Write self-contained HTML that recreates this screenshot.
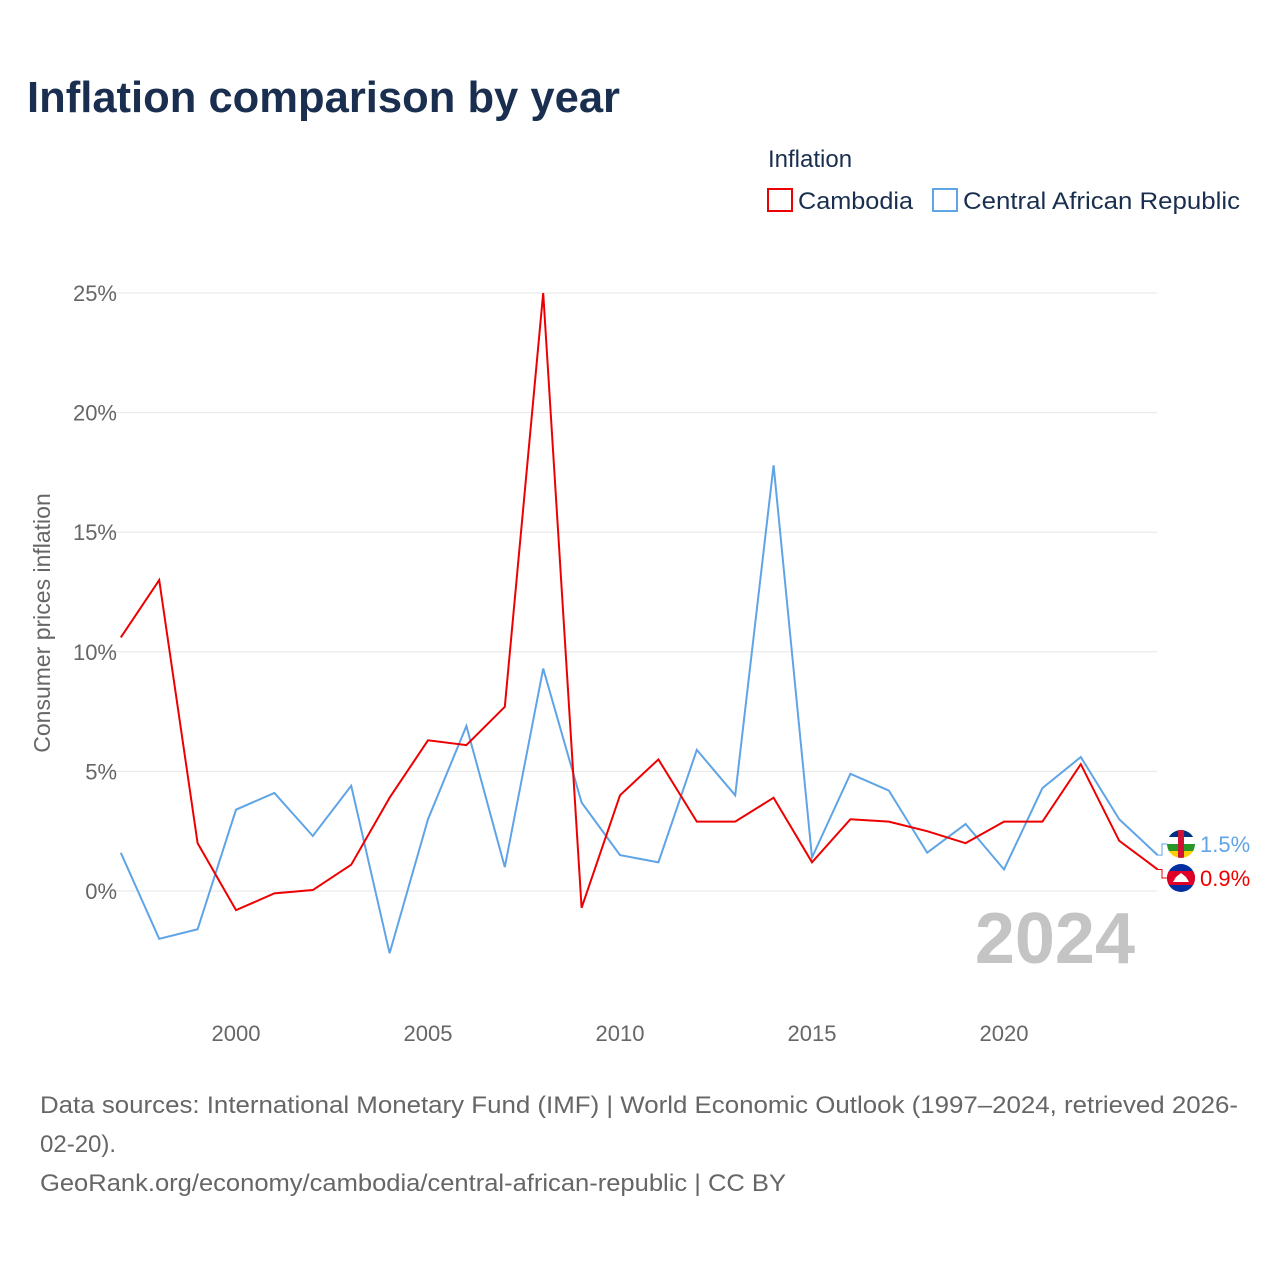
<!DOCTYPE html>
<html><head><meta charset="utf-8"><style>
body{margin:0;background:#fff;font-family:"Liberation Sans",sans-serif;}
</style></head><body>
<svg width="1280" height="1280" xmlns="http://www.w3.org/2000/svg" font-family="Liberation Sans, sans-serif">
<defs>
<clipPath id="c1"><circle cx="1181" cy="844" r="14"/></clipPath>
<clipPath id="c2"><circle cx="1181" cy="878" r="14"/></clipPath>
</defs>
<text x="27" y="112" font-size="44" font-weight="bold" fill="#1a2f4f" textLength="593" lengthAdjust="spacingAndGlyphs">Inflation comparison by year</text>
<text x="768" y="167" font-size="24" fill="#1a2f4f">Inflation</text>
<g><rect x="768" y="189" width="24" height="22" fill="none" stroke="#ee0000" stroke-width="2"/><text x="798" y="209" font-size="24" fill="#1a2f4f" textLength="115" lengthAdjust="spacingAndGlyphs">Cambodia</text></g>
<g><rect x="933" y="189" width="24" height="22" fill="none" stroke="#5fa4e6" stroke-width="2"/><text x="963" y="209" font-size="24" fill="#1a2f4f" textLength="277" lengthAdjust="spacingAndGlyphs">Central African Republic</text></g>
<text transform="translate(50,623) rotate(-90)" text-anchor="middle" font-size="23" fill="#666">Consumer prices inflation</text>
<g id="grid"></g><g id="xt"></g><g id="plot"></g>
<text x="1135" y="963" text-anchor="end" font-size="72" font-weight="bold" fill="#c4c4c4">2024</text>
<text x="40" y="1113" font-size="24" fill="#666" textLength="1198" lengthAdjust="spacingAndGlyphs">Data sources: International Monetary Fund (IMF) | World Economic Outlook (1997–2024, retrieved 2026-</text>
<text x="40" y="1152" font-size="24" fill="#666">02-20).</text>
<text x="40" y="1191" font-size="24" fill="#666" textLength="746" lengthAdjust="spacingAndGlyphs">GeoRank.org/economy/cambodia/central-african-republic | CC BY</text>
</svg>
<script>
const years=[1997,1998,1999,2000,2001,2002,2003,2004,2005,2006,2007,2008,2009,2010,2011,2012,2013,2014,2015,2016,2017,2018,2019,2020,2021,2022,2023,2024];
const cambodia=[10.6,13.0,2.0,-0.8,-0.1,0.04,1.1,3.9,6.3,6.1,7.7,25.0,-0.7,4.0,5.5,2.9,2.9,3.9,1.2,3.0,2.9,2.5,2.0,2.9,2.9,5.3,2.1,0.9];
const car=[1.6,-2.0,-1.6,3.4,4.1,2.3,4.4,-2.6,3.0,6.9,1.0,9.3,3.7,1.5,1.2,5.9,4.0,17.8,1.4,4.9,4.2,1.6,2.8,0.9,4.3,5.6,3.0,1.5];
const yTicks=[0,5,10,15,20,25];
const xTicks=[2000,2005,2010,2015,2020];
const X=y=>120.8+(y-1997)*38.4;
const Y=v=>891-v*23.92;
const NS="http://www.w3.org/2000/svg";
function mk(t,a,p){const e=document.createElementNS(NS,t);for(const k in a)e.setAttribute(k,a[k]);p.appendChild(e);return e;}
const grid=document.getElementById('grid'),xt=document.getElementById('xt'),plot=document.getElementById('plot');
yTicks.forEach(v=>{
 const l=mk('line',{x1:110,x2:1157,y1:Y(v),y2:Y(v),stroke:'#e6e6e6'},grid);
 
 
 const t=mk('text',{x:117,y:Y(v)+8,'text-anchor':'end','font-size':22,fill:'#666'},grid);
 t.textContent=v+'%';
 
 
});
xTicks.forEach(y=>{
 const t=mk('text',{x:X(y),y:1041,'text-anchor':'middle','font-size':22,fill:'#666'},xt);
 t.textContent=y;
 
 
});
function line(data,color,name){
 const p=mk('polyline',{points:data.map((v,i)=>X(years[i])+','+Y(v)).join(' '),fill:'none',stroke:color,'stroke-width':2},plot);
 
 
}
line(car,'#5fa4e6','line-car');
line(cambodia,'#ee0000','line-cambodia');
function endLabel(v,color,ly,name,flag,clip){
 const yEnd=Y(v);
 mk('polyline',{points:`${X(2024)},${yEnd} 1162,${yEnd} 1162,${ly} 1168,${ly}`,fill:'none',stroke:color,'stroke-width':1},plot);
 const g=mk('g',{'clip-path':'url(#'+clip+')'},plot);
 
 
 if(flag==='kh'){
  mk('rect',{x:1167,y:ly-14,width:28,height:28,fill:'#032ea1'},g);
  mk('rect',{x:1167,y:ly-7,width:28,height:14,fill:'#e00025'},g);
  mk('path',{d:`M1173 ${ly+4} L1189 ${ly+4} L1186 ${ly-1} L1181 ${ly-5} L1176 ${ly-1} Z`,fill:'#fff'},g);
 }else{
  mk('rect',{x:1167,y:ly-14,width:28,height:7,fill:'#003082'},g);
  mk('rect',{x:1167,y:ly-7,width:28,height:7,fill:'#fff'},g);
  mk('rect',{x:1167,y:ly,width:28,height:7,fill:'#289728'},g);
  mk('rect',{x:1167,y:ly+7,width:28,height:7,fill:'#ffce00'},g);
  mk('rect',{x:1178,y:ly-14,width:6,height:28,fill:'#d21034'},g);
 }
 const t=mk('text',{x:1200,y:ly+8,'font-size':22,fill:color},plot);
 t.textContent=v.toFixed(1)+'%';
 
 
}
endLabel(car[car.length-1],'#5fa4e6',844,'car','cf','c1');
endLabel(cambodia[cambodia.length-1],'#ee0000',878,'cambodia','kh','c2');
</script>
</body></html>
